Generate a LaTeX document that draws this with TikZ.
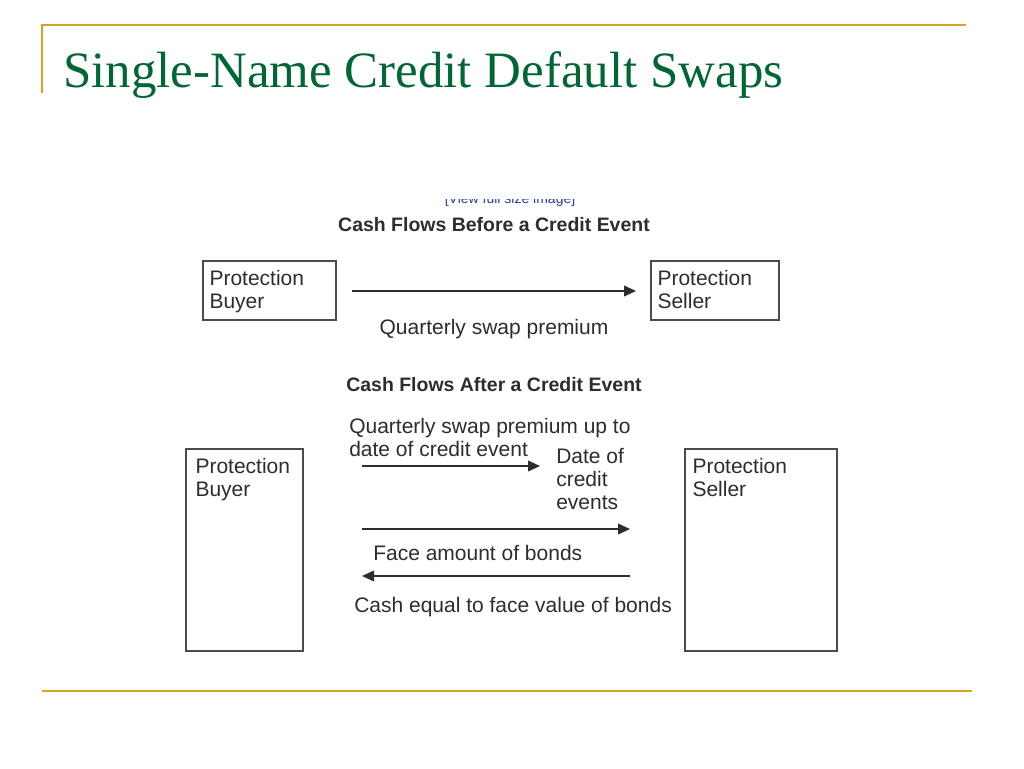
\documentclass[tikz,border=0pt]{standalone}
\usepackage{fontspec}
\setmainfont{Liberation Serif}
\newfontfamily\figsans{Liberation Sans}
\usetikzlibrary{arrows.meta,positioning}
\definecolor{slidegold}{RGB}{214,163,28}
\definecolor{slidegreen}{RGB}{0,102,51}
\definecolor{inkgray}{RGB}{45,45,45}
\definecolor{linkblue}{RGB}{40,60,170}
\tikzset{party/.style={draw=inkgray!85, line width=1.1pt, inner sep=0pt},
  flowtext/.style={inkgray, font=\figsans\fontsize{15.75}{17.25}\selectfont, align=left, inner sep=0pt},
  heading/.style={inkgray, font=\figsans\bfseries\fontsize{14.6}{17}\selectfont, inner sep=0pt},
  flow/.style={draw=inkgray, line width=1.2pt, -{Triangle[length=9pt,width=8pt]}},
  goldrule/.style={draw=slidegold, line width=1.6pt}}

\begin{document}
\begin{tikzpicture}[x=0.75pt,y=-0.75pt]
  \useasboundingbox[fill=white] (0,0) rectangle (1024,768);
  % slide frame and title
  \draw[goldrule] (42,93) -- (42,25) -- (966,25);
  \draw[goldrule] (42,691) -- (972,691);
  \node[anchor=base west, inner sep=0pt, slidegreen, font=\fontsize{38.2}{44}\selectfont] (title) at (63,87) {Single-Name Credit Default Swaps};
  \begin{scope}
    \clip (300,199) rectangle (720,215);
    \node[anchor=base, inner sep=0pt, linkblue, font=\figsans\fontsize{10.5}{12}\selectfont] (link) at (510,203) {[View full size image]};
  \end{scope}

  % before a credit event
  \node[heading, anchor=base] (before) at (494,231) {Cash Flows Before a Credit Event};
  \node[party, minimum width=99.75pt, minimum height=44.25pt] (buyerA) at (269.5,290.5) {};
  \node[party, minimum width=96pt, minimum height=44.25pt] (sellerA) at (715,290.5) {};
  \node[flowtext, below right=7.5pt and 5.25pt of buyerA.north west, anchor=north west] (buyerAtext) {Protection\\Buyer};
  \node[flowtext, below right=7.5pt and 5.25pt of sellerA.north west, anchor=north west] (sellerAtext) {Protection\\Seller};
  \coordinate (premA) at (352,291);
  \coordinate (premAend) at (636,291);
  \draw[flow] (premA) -- (premAend);
  \node[flowtext, anchor=base] (premAlabel) at (494,334) {Quarterly swap premium};

  % after a credit event
  \node[heading, anchor=base] (after) at (494,391) {Cash Flows After a Credit Event};
  \node[party, minimum width=87.75pt, minimum height=151.5pt] (buyerB) at (244.5,550) {};
  \node[party, minimum width=114pt, minimum height=151.5pt] (sellerB) at (761,550) {};
  \node[flowtext, below right=7.5pt and 7.5pt of buyerB.north west, anchor=north west] (buyerBtext) {Protection\\Buyer};
  \node[flowtext, below right=7.5pt and 6pt of sellerB.north west, anchor=north west] (sellerBtext) {Protection\\Seller};
  \node[flowtext, anchor=north west] (premBlabel) at (349,418) {Quarterly swap premium up to\\date of credit event};
  \node[flowtext, anchor=north west] (eventdate) at (556,448) {Date of\\credit\\events};
  \coordinate (premB) at (362,466);
  \coordinate (premBend) at (540,466);
  \draw[flow] (premB) -- (premBend);
  \coordinate (bonds) at (362,529);
  \coordinate (bondsend) at (630,529);
  \draw[flow] (bonds) -- (bondsend);
  \node[flowtext, anchor=base west] (bondslabel) at (373,560) {Face amount of bonds};
  \coordinate (cash) at (630,576);
  \coordinate (cashend) at (362,576);
  \draw[flow] (cash) -- (cashend);
  \node[flowtext, anchor=base west] (cashlabel) at (354,612) {Cash equal to face value of bonds};
\end{tikzpicture}
\end{document}
